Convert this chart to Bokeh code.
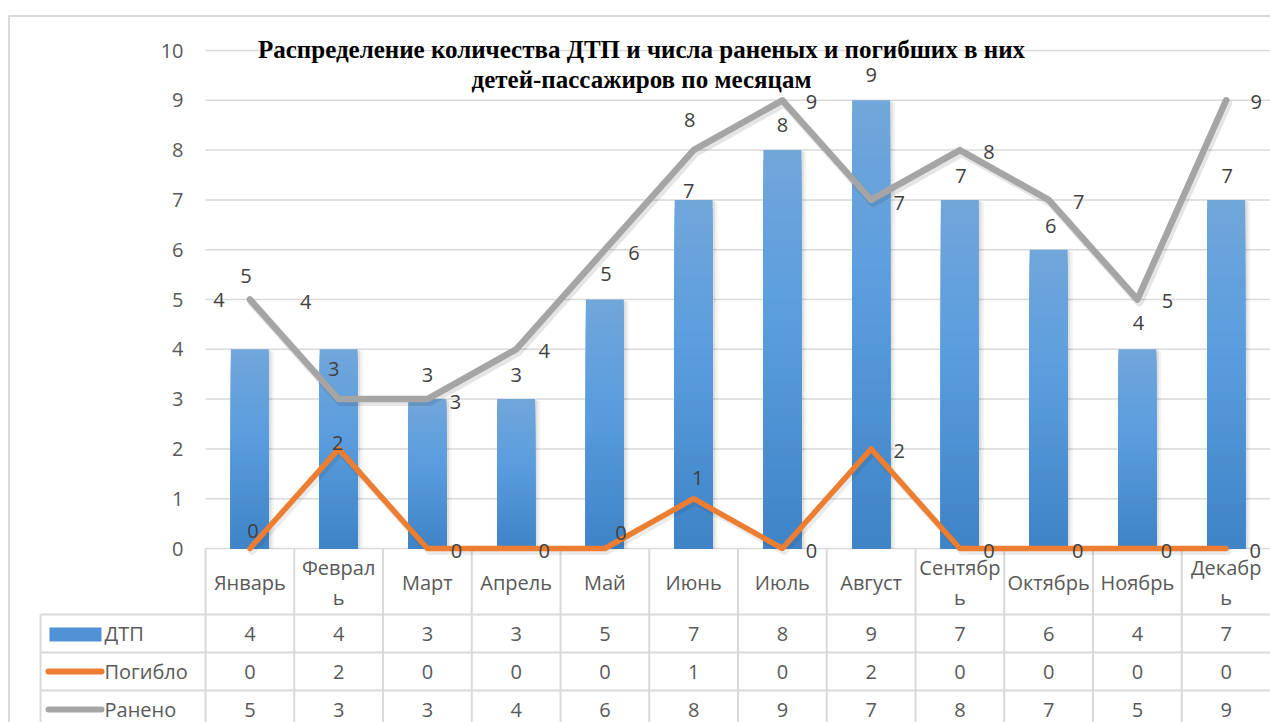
from bokeh.plotting import figure
from bokeh.models import Range1d
from bokeh.embed import file_html
from bokeh.resources import INLINE
from bokeh.core.properties import value

# ---------------- data ----------------
months = ["Январь", "Февраль", "Март", "Апрель", "Май", "Июнь",
          "Июль", "Август", "Сентябрь", "Октябрь", "Ноябрь", "Декабрь"]
# as the table cells wrap them
month_cells = ["Январь", "Феврал\nь", "Март", "Апрель", "Май", "Июнь",
               "Июль", "Август", "Сентябр\nь", "Октябрь", "Ноябрь", "Декабр\nь"]
dtp = [4, 4, 3, 3, 5, 7, 8, 9, 7, 6, 4, 7]
killed = [0, 2, 0, 0, 0, 1, 0, 2, 0, 0, 0, 0]
injured = [5, 3, 3, 4, 6, 8, 9, 7, 8, 7, 5, 9]
series_names = ["ДТП", "Погибло", "Ранено"]
y_ticks = [0, 1, 2, 3, 4, 5, 6, 7, 8, 9, 10]
title_lines = ["Распределение количества ДТП и числа раненых и погибших в них",
               "детей-пассажиров по месяцам"]

# ---------------- label placement (pixel nudges, dx right, dy down) ----------------
dtp_dx = [-31, -33, 0, 0, 1, -5, 0, 0, 1, 2, 1, 1]
dtp_dy = [-49, -47, -24, -24, -26, -9, -25, -25, -24, -24, -26, -24]
inj_dx = [-4, -5, 28, 28, 29, -4, 29, 28, 29, 30, 30, 30]
inj_dy = [-24, -30, 3, 2, 3, -30, 2, 3, 2, 2, 1, 2]
kil_dx = [3, -1, 29, 28, 16, 4, 29, 28, 29, 29, 29, 29]
kil_dy = [-18, -6, 2, 2, -16, -21, 2, 2, 2, 2, 2, 2]

# ---------------- geometry ----------------
W, H = 1270, 722
PL, PR = 205, 1270           # plot area left/right (px)
Z0, Z10 = 548, 50            # y pixel of value 0 and 10
SX = (PR - PL) / 12.0
SY = (Z0 - Z10) / 10.0


def X(px):
    return (px - PL) / SX


def Y(py):
    return (Z0 - py) / SY


p = figure(width=W, height=H, output_backend="svg", toolbar_location=None,
           x_axis_type=None, y_axis_type=None,
           x_range=Range1d(X(0), X(W)), y_range=Range1d(Y(H), Y(0)),
           min_border=0, outline_line_color=None, background_fill_color="white")
p.grid.visible = False

GRID = "#d9d9d9"
TXT = "#595959"
LBL = "#404040"
FONT = value("Open Sans")
FS = "20px"

# outer chart border
p.segment(x0=[X(8.5), X(8)], y0=[Y(15.5), Y(15.5)], x1=[X(8.5), X(1275)], y1=[Y(730), Y(15.5)],
          line_color=GRID, line_width=2)

# horizontal gridlines
p.segment(x0=[0] * len(y_ticks), x1=[12.2] * len(y_ticks), y0=y_ticks, y1=y_ticks,
          line_color=GRID, line_width=1.5)

# data table borders
row_edges = [614, 652, 690]
p.segment(x0=[X(40)] * 3, x1=[12.2] * 3, y0=[Y(r) for r in row_edges], y1=[Y(r) for r in row_edges],
          line_color=GRID, line_width=2)
p.segment(x0=list(range(12)), x1=list(range(12)), y0=[0] * 12, y1=[Y(730)] * 12,
          line_color=GRID, line_width=2)
p.segment(x0=[X(40)], x1=[X(40)], y0=[Y(614)], y1=[Y(730)], line_color=GRID, line_width=2)

# y tick labels
p.text(x=[X(183)] * len(y_ticks), y=y_ticks, text=[str(t) for t in y_ticks],
       text_align="right", text_baseline="middle", text_font=FONT,
       text_font_size=FS, text_color=TXT)

# ---------------- bars with gradient ----------------
cx = [i + 0.5 for i in range(12)]
BW = 38 / SX


def lerp(c1, c2, t):
    return tuple(int(round(a + (b - a) * t)) for a, b in zip(c1, c2))


def grad(t):  # t=0 bottom, 1 top
    bottom, mid, top = (62, 131, 198), (89, 157, 222), (113, 166, 218)
    if t < 0.55:
        c = lerp(bottom, mid, t / 0.55)
    else:
        c = lerp(mid, top, (t - 0.55) / 0.45)
    return "#%02x%02x%02x" % c


# soft shadow
p.vbar(x=[c + 3 / SX for c in cx], top=[v - 2 / SY for v in dtp], bottom=0, width=BW + 4 / SX,
       fill_color="black", fill_alpha=0.05, line_color=None)
p.vbar(x=[c + 2 / SX for c in cx], top=[v - 1 / SY for v in dtp], bottom=0, width=BW + 1 / SX,
       fill_color="black", fill_alpha=0.08, line_color=None)
N = 40
for k in range(N):
    frac = (N - k) / N
    p.vbar(x=cx, top=[v * frac for v in dtp], bottom=0, width=BW,
           fill_color=grad((N - k - 0.5) / N), line_color=None)

# ---------------- lines ----------------
p.line(x=[c + 2 / SX for c in cx], y=[v - 3 / SY for v in injured], line_color="black",
       line_alpha=0.10, line_width=8, line_join="round", line_cap="round")
p.line(x=cx, y=injured, line_color="#a5a5a5", line_width=6.5, line_join="round", line_cap="round")
p.line(x=[c + 2 / SX for c in cx], y=[v - 3 / SY for v in killed], line_color="black",
       line_alpha=0.08, line_width=7, line_join="round", line_cap="round")
p.line(x=cx, y=killed, line_color="#ed7d31", line_width=5.5, line_join="round", line_cap="round")

# ---------------- data labels ----------------
for vals, dx, dy in ((dtp, dtp_dx, dtp_dy), (injured, inj_dx, inj_dy), (killed, kil_dx, kil_dy)):
    p.text(x=[c + a / SX for c, a in zip(cx, dx)], y=[v - b / SY for v, b in zip(vals, dy)],
           text=[str(v) for v in vals], text_align="center", text_baseline="middle",
           text_font=FONT, text_font_size=FS, text_color=LBL)

# ---------------- title ----------------
tx = X(641)
p.text(x=[tx, tx], y=[Y(49), Y(79)], text=title_lines, text_align="center",
       text_baseline="alphabetic", text_font=value("Liberation Serif"),
       text_font_style="bold", text_font_size="25px", text_color="black")

# ---------------- data table ----------------
p.text(x=cx, y=[Y(582)] * 12, text=month_cells, text_align="center", text_baseline="middle",
       text_font=FONT, text_font_size=FS, text_color=TXT, text_line_height=1.12)

row_c = [633, 671, 709]
for vals, rc in zip((dtp, killed, injured), row_c):
    p.text(x=cx, y=[Y(rc)] * 12, text=[str(v) for v in vals], text_align="center",
           text_baseline="middle", text_font=FONT, text_font_size=FS, text_color=TXT)

# legend keys
p.quad(left=[X(49)], right=[X(101)], top=[Y(627)], bottom=[Y(641)],
       fill_color="#4f92d6", line_color=None)
p.line(x=[X(48), X(101)], y=[Y(671), Y(671)], line_color="#ed7d31", line_width=6, line_cap="round")
p.line(x=[X(48), X(101)], y=[Y(709), Y(709)], line_color="#a5a5a5", line_width=6, line_cap="round")
p.text(x=[X(104)] * 3, y=[Y(r) for r in row_c], text=series_names, text_align="left",
       text_baseline="middle", text_font=FONT, text_font_size=FS, text_color=TXT)

open("out.html", "w").write(file_html(p, INLINE))
